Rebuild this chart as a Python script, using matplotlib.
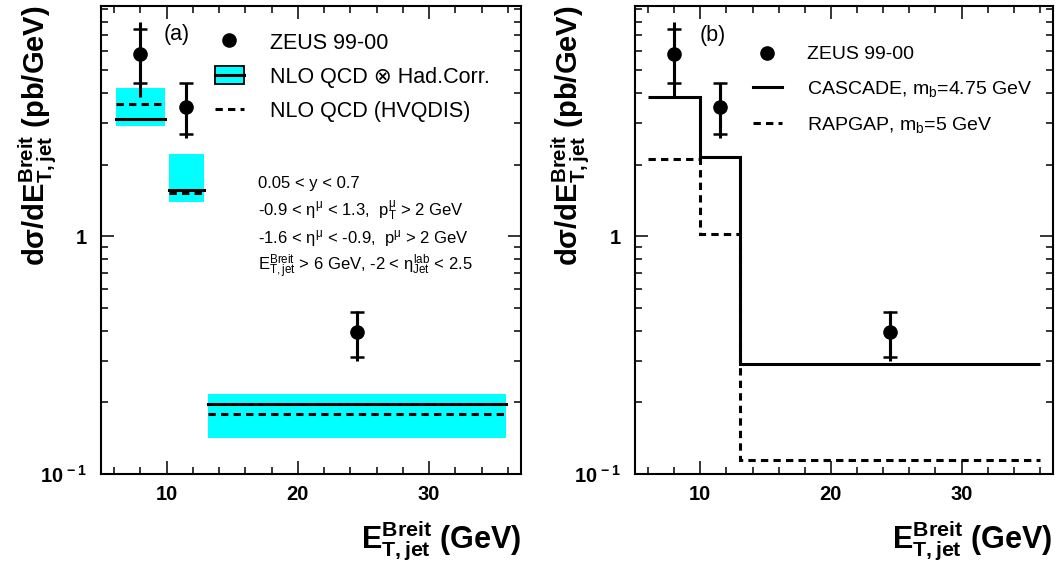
import matplotlib
matplotlib.use('Agg')
import matplotlib.pyplot as plt
import numpy as np
from matplotlib.ticker import FixedLocator, MultipleLocator, LogLocator, NullFormatter, FuncFormatter
from matplotlib.patches import Patch
from matplotlib.lines import Line2D

plt.rcParams['font.family'] = ['Liberation Sans', 'DejaVu Sans']
plt.rcParams['font.weight'] = 'bold'
plt.rcParams['mathtext.fontset'] = 'custom'
plt.rcParams['mathtext.rm'] = 'Liberation Sans:weight=normal'
plt.rcParams['mathtext.it'] = 'Liberation Sans:weight=normal'
plt.rcParams['mathtext.sf'] = 'Liberation Sans:weight=normal'
plt.rcParams['mathtext.bf'] = 'Liberation Sans:weight=bold'

# ---------------- data ----------------
data_x = [8.0, 11.5, 24.5]
data_y = [5.87, 3.49, 0.395]
stat_hi = [7.41, 4.41, 0.48]
stat_lo = [4.41, 2.68, 0.310]
tot_hi = [7.98, 4.41, 0.487]
tot_lo = [3.84, 2.58, 0.298]

bin_lo = [6.0, 10.0, 13.0]
bin_hi = [10.0, 13.0, 36.0]
bin_edges = [6.0, 10.0, 13.0, 36.0]

nlo_had = [3.10, 1.57, 0.197]
nlo_hvqdis = [3.61, 1.52, 0.179]
band_lo = [2.90, 1.39, 0.142]
band_hi = [4.22, 2.21, 0.218]

cascade = [3.85, 2.15, 0.291]
rapgap = [2.12, 1.02, 0.115]

x_major = [10, 20, 30]
y_major = [0.1, 1.0]
y_major_labels = {0.1: r"$\mathbf{10^{\,-1}}$", 1.0: "1"}

legend_a = ['ZEUS 99-00', 'NLO QCD \u2297 Had.Corr.', 'NLO QCD (HVQDIS)']
legend_b = ['ZEUS 99-00', r'CASCADE, m$_{\rm b}$=4.75 GeV', r'RAPGAP, m$_{\rm b}$=5 GeV']
cuts = ["0.05 < y < 0.7",
        r"-0.9 < $\eta^{\mu}$ < 1.3,  p$^{\mu}_{T}$ > 2 GeV",
        r"-1.6 < $\eta^{\mu}$ < -0.9,  p$^{\mu}$ > 2 GeV",
        r"E$^{Breit}_{T,jet}$ > 6 GeV, -2 < $\eta^{lab}_{Jet}$ < 2.5"]

ylabel = r"d$\mathbf{\sigma}$/d$\mathbf{E}^{\mathbf{Breit}}_{\mathbf{T,jet}}$ (pb/GeV)"
xlabel = r"$\mathbf{E}^{\mathbf{Breit}}_{\mathbf{T,jet}}$ (GeV)"

CYAN = '#00FFFF'
DASH = (0, (2.4, 1.7))
LW = 2.2

W, H = 1061, 571
fig = plt.figure(figsize=(W / 100, H / 100), dpi=100)
ax_a = fig.add_axes([101 / W, 1 - 474 / H, 420 / W, 468 / H])
ax_b = fig.add_axes([635 / W, 1 - 474 / H, 418 / W, 468 / H])


def style(ax):
    ax.set_yscale('log')
    ax.set_xlim(5, 37)
    ax.set_ylim(0.1, 9.3)
    ax.xaxis.set_major_locator(FixedLocator(x_major))
    ax.xaxis.set_minor_locator(MultipleLocator(2))
    ax.yaxis.set_major_locator(FixedLocator(y_major))
    ax.yaxis.set_major_formatter(FuncFormatter(lambda v, p: y_major_labels.get(round(v, 3), "")))
    ax.yaxis.set_minor_locator(LogLocator(base=10, subs=np.arange(2, 10)))
    ax.yaxis.set_minor_formatter(NullFormatter())
    ax.tick_params(which='both', direction='in', top=True, right=True, width=1.1, labelsize=14.5)
    ax.tick_params(which='major', length=9.5)
    ax.tick_params(which='minor', length=4.8)
    ax.tick_params(axis='x', which='major', pad=8)
    ax.tick_params(axis='y', which='major', pad=10)
    for s in ax.spines.values():
        s.set_linewidth(1.5)


def draw_data(ax):
    y = np.array(data_y)
    tot = [y - np.array(tot_lo), np.array(tot_hi) - y]
    st = [y - np.array(stat_lo), np.array(stat_hi) - y]
    ax.errorbar(data_x, data_y, yerr=tot, fmt='o', color='black', ms=9.5, lw=LW,
                capsize=0, zorder=5)
    ax.errorbar(data_x, data_y, yerr=st, fmt='none', ecolor='black', lw=LW,
                capsize=4.8, capthick=1.8, zorder=5)


style(ax_a)
style(ax_b)

# ---- panel (a) ----
g = 0.15
for lo, hi, bl, bh, v1, v2 in zip(bin_lo, bin_hi, band_lo, band_hi, nlo_had, nlo_hvqdis):
    ax_a.fill_between([lo + g, hi - g], [bl, bl], [bh, bh], color=CYAN, lw=0, zorder=1)
    ax_a.plot([lo + g, hi - g], [v1, v1], color='black', lw=LW, zorder=2)
    ax_a.plot([lo + g, hi - g], [v2, v2], color='black', lw=LW, ls=DASH, zorder=2)
draw_data(ax_a)

h_a = [Line2D([], [], marker='o', ls='none', color='black', ms=9.5),
       (Patch(facecolor=CYAN, edgecolor='black', lw=1.3), Line2D([], [], color='black', lw=LW)),
       Line2D([], [], color='black', lw=LW, ls=DASH)]
ax_a.legend(h_a, legend_a, loc='upper left', bbox_to_anchor=(0.271, 0.944), frameon=False,
            prop={'size': 15.5, 'weight': 'normal'}, handlelength=1.35, handleheight=0.9,
            handletextpad=1.2, labelspacing=0.6, borderaxespad=0, borderpad=0)
ax_a.text(0.18, 0.94, "(a)", transform=ax_a.transAxes, ha='center', va='center',
          fontsize=15.5, fontweight='normal')
for i, line in enumerate(cuts):
    ax_a.text(0.374, 0.611 - i * 0.059, line, transform=ax_a.transAxes, ha='left',
              va='baseline', fontsize=12, fontweight='normal')

# ---- panel (b) ----
ax_b.stairs(cascade, bin_edges, baseline=None, color='black', lw=LW, zorder=2)
ax_b.stairs(rapgap, bin_edges, baseline=None, color='black', lw=LW, ls=DASH, zorder=2)
draw_data(ax_b)
h_b = [Line2D([], [], marker='o', ls='none', color='black', ms=9.5),
       Line2D([], [], color='black', lw=LW),
       Line2D([], [], color='black', lw=LW, ls=DASH)]
ax_b.legend(h_b, legend_b, loc='upper left', bbox_to_anchor=(0.282, 0.915), frameon=False,
            prop={'size': 14, 'weight': 'normal'}, handlelength=1.5,
            handletextpad=1.3, labelspacing=0.8, borderaxespad=0, borderpad=0)
ax_b.text(0.187, 0.936, "(b)", transform=ax_b.transAxes, ha='center', va='center',
          fontsize=15.5, fontweight='normal')

# ---- axis titles ----
for xc in (38, 571):
    fig.text(xc / W, 1 - 5 / H, ylabel, rotation=90, ha='center', va='top',
             fontsize=21, fontweight='bold')
for xr in (521, 1052):
    fig.text(xr / W, 23 / H, xlabel, ha='right', va='baseline', fontsize=22, fontweight='bold')

fig.savefig('out.png', dpi=100)
